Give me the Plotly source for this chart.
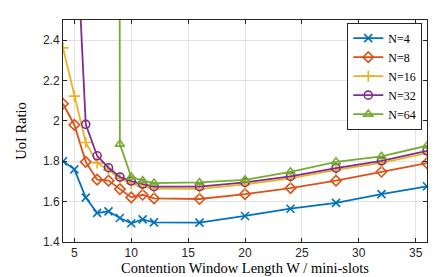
import plotly.graph_objects as go

w_all = [4, 5, 6, 7, 8, 9, 10, 11, 12, 16, 20, 24, 28, 32, 36]
n4 = [1.800, 1.760, 1.620, 1.544, 1.552, 1.519, 1.493, 1.512, 1.497, 1.496, 1.529, 1.565, 1.594, 1.637, 1.676]
n8 = [2.085, 1.980, 1.797, 1.709, 1.704, 1.662, 1.621, 1.634, 1.616, 1.613, 1.637, 1.667, 1.704, 1.748, 1.791]
n16 = [2.362, 2.123, 1.893, 1.792, 1.757, 1.715, 1.690, 1.675, 1.665, 1.663, 1.685, 1.715, 1.757, 1.792, 1.840]
w32 = [5, 6, 7, 8, 9, 10, 11, 12, 16, 20, 24, 28, 32, 36]
n32 = [3.15, 1.983, 1.827, 1.768, 1.722, 1.702, 1.687, 1.674, 1.674, 1.695, 1.725, 1.766, 1.802, 1.852]
w64 = [8, 9, 10, 11, 12, 16, 20, 24, 28, 32, 36]
n64 = [40.0, 1.885, 1.722, 1.704, 1.692, 1.695, 1.708, 1.748, 1.797, 1.824, 1.877]

series = [
    ("N=4", w_all, n4, "#0072BD", "x-thin"),
    ("N=8", w_all, n8, "#D95319", "diamond-open"),
    ("N=16", w_all, n16, "#EDB120", "cross-thin"),
    ("N=32", w32, n32, "#7E2F8E", "circle-open"),
    ("N=64", w64, n64, "#77AC30", "triangle-up-open"),
]

fig = go.Figure()
for name, xs, ys, col, sym in series:
    fig.add_trace(go.Scatter(
        x=xs, y=ys, name=name, mode="lines+markers",
        line=dict(color=col, width=1.8),
        marker=dict(symbol=sym, size=8, color=col, line=dict(color=col, width=1.6)),
        cliponaxis=True,
    ))

axis_common = dict(
    showgrid=True, gridcolor="#e3e3e3", gridwidth=1,
    showline=True, linecolor="#262626", linewidth=1, mirror="ticks",
    ticks="inside", ticklen=4, tickcolor="#262626",
    tickfont=dict(family="Liberation Sans, Arial", size=12, color="#262626"),
    zeroline=False,
)

fig.update_layout(
    width=443, height=277,
    margin=dict(l=55, r=24, t=12, b=43),
    paper_bgcolor="white", plot_bgcolor="white",
    showlegend=True,
    legend=dict(
        x=0.987, y=0.988, xanchor="right", yanchor="top",
        bgcolor="white", bordercolor="#262626", borderwidth=1,
        font=dict(family="Liberation Serif, Times New Roman", size=12, color="#000"),
        tracegroupgap=0, itemwidth=30,
    ),
    xaxis=dict(range=[4, 36], tickvals=[5, 10, 15, 20, 25, 30, 35],
               title=dict(text="Contention Window Length W / mini-slots",
                          font=dict(family="Liberation Serif, Times New Roman", size=14.5, color="#000"),
                          standoff=0),
               **axis_common),
    yaxis=dict(range=[1.4, 2.5], tickvals=[1.4, 1.6, 1.8, 2.0, 2.2, 2.4],
               ticktext=["1.4", "1.6", "1.8", "2", "2.2", "2.4"],
               title=dict(text="UoI Ratio",
                          font=dict(family="Liberation Serif, Times New Roman", size=14.5, color="#000"),
                          standoff=12),
               **axis_common),
)

fig.write_html("out.html")
